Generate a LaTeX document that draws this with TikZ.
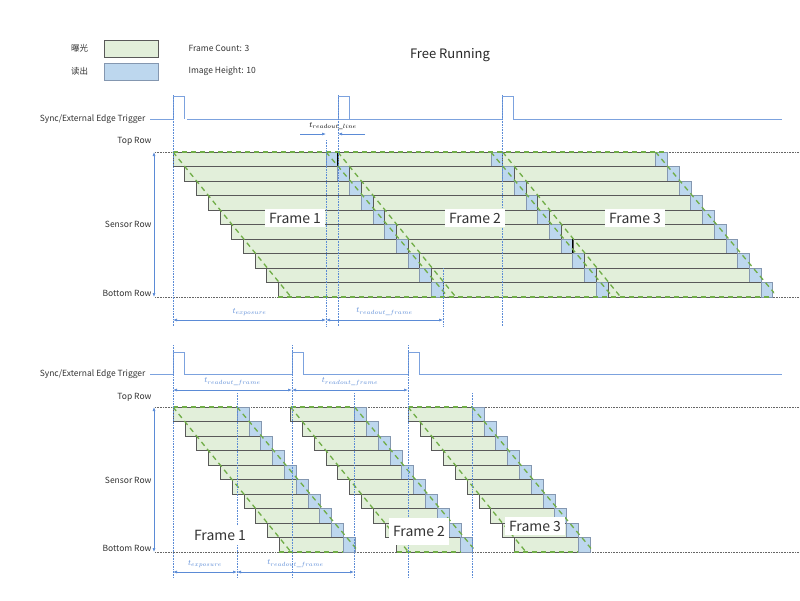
\documentclass[tikz,border=0pt]{standalone}
\usepackage{fontspec}
\setmainfont{Noto Sans CJK SC}
\usetikzlibrary{arrows.meta,positioning}
\definecolor{expoGreen}{HTML}{E2EFDA}
\definecolor{rdBlue}{HTML}{BDD7EE}
\definecolor{rdEdge}{HTML}{8497B0}
\definecolor{dashGreen}{HTML}{70AD47}
\definecolor{sigBlue}{HTML}{5B8BD6}
\tikzset{expo/.style={fill=expoGreen, draw=black!65, line width=0.6pt},
         rdout/.style={fill=rdBlue, draw=rdEdge, line width=0.6pt},
         diag/.style={dashGreen, dashed, line width=1.3pt, dash pattern=on 5pt off 4pt},
         guide/.style={sigBlue, densely dotted, line width=0.6pt},
         rowline/.style={black!60, densely dotted, line width=0.6pt},
         dim/.style={sigBlue, {Latex[length=4pt]}-{Latex[length=4pt]}, line width=0.6pt},
         trig/.style={sigBlue!80, line width=0.8pt},
         rowlbl/.style={anchor=east, font=\fontsize{8.5}{10}\selectfont, text=black!80},
         tlbl/.style={font=\footnotesize},
         framelbl/.style={fill=white, font=\fontsize{14}{16}\selectfont, text=black!80, inner sep=4pt}}
\begin{document}
\begin{tikzpicture}[x=1pt,y=-1pt]
    \useasboundingbox (0,0) rectangle (800,600);
    % legend
    \node[expo, minimum width=54pt, minimum height=17pt] (lgExpo) at (131,48.5) {};
    \node[rdout, minimum width=54pt, minimum height=17pt] (lgRd) at (131,71.5) {};
    \node[rowlbl, left=12pt of lgExpo] {曝光};
    \node[rowlbl, left=12pt of lgRd] {读出};
    \node[anchor=west, font=\fontsize{8.5}{10}\selectfont, text=black!80] (fc) at (185,48) {Frame Count: 3};
    \node[anchor=west, font=\fontsize{8.5}{10}\selectfont, text=black!80] (ih) at (185,71) {Image Height: 10};
    \node[font=\fontsize{13}{15}\selectfont, text=black!85] (title) at (450,55) {Free Running};
    %
    %%%%% top panel: free running
    \node[rowlbl] (trigA) at (149,119) {Sync/External Edge Trigger};
    \draw[trig] (150,119) -- (173,119) -- (173,96) -- (184,96) -- (184,119);
    \foreach \p in {338,502}
        \draw[trig] (187,119) -| (\p,96) -- ++(11,0) -- ++(0,23);
    \draw[trig] (513,119) -- (782,119);
    \draw[trig] (187,119) -- (338,119);
    \draw[trig] (349,119) -- (502,119);
    \node[rowlbl] (topA) at (155,141) {Top Row};
    \node[rowlbl] (senA) at (155,224) {Sensor Row};
    \node[rowlbl] (botA) at (155,293) {Bottom Row};
    \draw[rowline] (155,152) -- (800,152);
    \draw[rowline] (155,297) -- (800,297);
    \draw[dim] (154,152) -- (154,297);
    % rows
    \foreach \i in {0,...,9}
        \foreach \k in {0,1,2} {
            \pgfmathsetmacro\s{173+11.7*\i+164.8*\k}
            \pgfmathsetmacro\yy{152+14.5*\i}
            \draw[expo] (\s,\yy) rectangle ++(153,14.5);
            \draw[rdout] (\s+153,\yy) rectangle ++(11.8,14.5);
            \ifnum\k<2 \draw[black, line width=0.8pt] (\s+164.8,\yy) -- ++(0,14.5); \fi
        }
    \begin{scope}
        \clip (170,150) rectangle (774,299);
        \foreach \k in {0,1,2} {
            \pgfmathsetmacro\s{173+164.8*\k}
            \draw[diag] (\s,152) -- ++(118,145);
            \draw[diag] (\s+153,152) -- ++(122,145);
        }
        \draw[diag] (173,152) -- (667,152);
        \draw[diag] (278,297) -- (772,297);
    \end{scope}
    \foreach \x in {173,338,502} \draw[guide] (\x,95) -- (\x,326);
    \draw[guide] (326,140) -- (326,326);
    \draw[guide] (443,268) -- (443,326);
    \node[framelbl] (f1A) at (295,218) {Frame 1};
    \node[framelbl] (f2A) at (475,218) {Frame 2};
    \node[framelbl] (f3A) at (635,218) {Frame 3};
    % dimensions
    \coordinate (eA) at (173,320); \coordinate (eB) at (326,320); \coordinate (eC) at (443,320);
    \draw[dim] (eA) -- (eB) node[tlbl, midway, above=1pt] {$t_{exposure}$};
    \draw[dim] (eB) -- (eC) node[tlbl, midway, above=1pt] {$t_{readout\_frame}$};
    \coordinate (lA) at (300,134); \coordinate (lB) at (326,134);
    \coordinate (lC) at (365,134); \coordinate (lD) at (338,134);
    \draw[sigBlue, -{Latex[length=4pt]}, line width=0.6pt] (lA) -- (lB);
    \draw[sigBlue, -{Latex[length=4pt]}, line width=0.6pt] (lC) -- (lD);
    \node[tlbl] (rl) at (333,126) {$t_{readout\_line}$};
    %
    %%%%% bottom panel: triggered
    \node[rowlbl] (trigB) at (149,374) {Sync/External Edge Trigger};
    \draw[trig] (150,374) -- (173,374) -- (173,352) -- (184,352) -- (184,374) -- (292,374)
        -- (292,352) -- (303,352) -- (303,374) -- (408,374) -- (408,352) -- (419,352) -- (419,374) -- (782,374);
    \node[rowlbl] (topB) at (155,397) {Top Row};
    \node[rowlbl] (senB) at (155,480) {Sensor Row};
    \node[rowlbl] (botB) at (155,548) {Bottom Row};
    \draw[rowline] (155,407) -- (800,407);
    \draw[rowline] (155,552) -- (800,552);
    \draw[dim] (154,407) -- (154,552);
    \foreach \i in {0,...,9}
        \foreach \k in {0,1,2} {
            \pgfmathsetmacro\s{173+11.8*\i+117.5*\k}
            \pgfmathsetmacro\yy{407+14.5*\i}
            \draw[expo] (\s,\yy) rectangle ++(64,14.5);
            \draw[rdout] (\s+64,\yy) rectangle ++(12,14.5);
        }
    \foreach \k in {0,1,2} {
        \pgfmathsetmacro\s{173+117.5*\k}
        \begin{scope}
            \clip (\s-2,405) rectangle (\s+183,554);
            \draw[diag] (\s,407) -- ++(118,145);
            \draw[diag] (\s+64,407) -- ++(122,145);
        \end{scope}
        \draw[diag] (\s,407) -- ++(64,0);
        \draw[diag] (\s+106,552) -- ++(64,0);
    }
    \foreach \x in {173,292,408} \draw[guide] (\x,345) -- (\x,578);
    \foreach \x in {237,354,472} \draw[guide] (\x,393) -- (\x,578);
    \node[framelbl] (f1B) at (220,535) {Frame 1};
    \node[framelbl, minimum height=27pt] (f2B) at (419,531) {Frame 2};
    \node[framelbl] (f3B) at (535,526) {Frame 3};
    \coordinate (tA) at (173,390); \coordinate (tB) at (292,390); \coordinate (tC) at (408,390);
    \draw[dim] (tA) -- (tB) node[tlbl, midway, above=1pt] {$t_{readout\_frame}$};
    \draw[dim] (tB) -- (tC) node[tlbl, midway, above=1pt] {$t_{readout\_frame}$};
    \coordinate (bA) at (173,572); \coordinate (bB) at (237,572); \coordinate (bC) at (354,572);
    \draw[dim] (bA) -- (bB) node[tlbl, midway, above=1pt] {$t_{exposure}$};
    \draw[dim] (bB) -- (bC) node[tlbl, midway, above=1pt] {$t_{readout\_frame}$};
\end{tikzpicture}
\end{document}
